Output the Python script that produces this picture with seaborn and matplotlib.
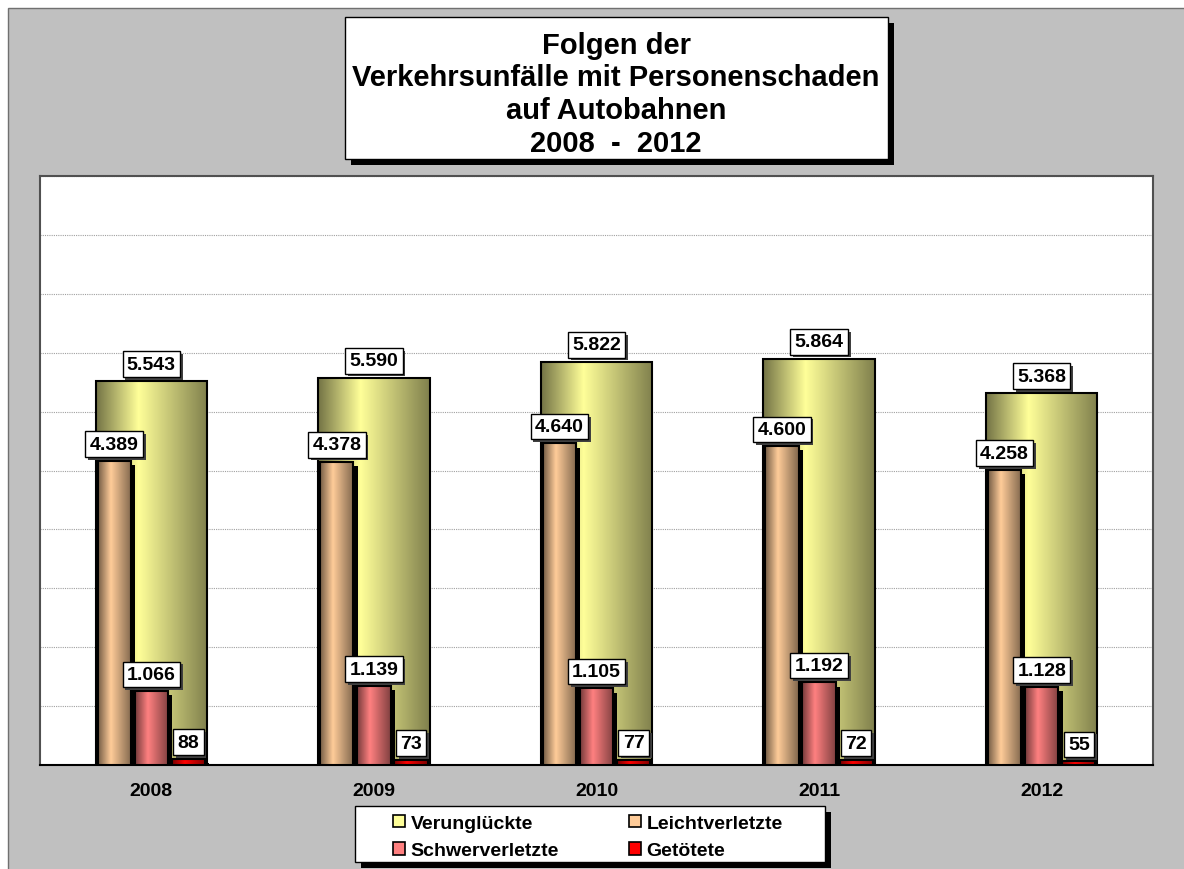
import numpy as np
import pandas as pd
import seaborn as sns
import matplotlib.pyplot as plt
import matplotlib.colors as mcolors
import matplotlib.patches as mpatches
import matplotlib.patheffects as pe

years = ["2008", "2009", "2010", "2011", "2012"]
verunglueckte = [5543, 5590, 5822, 5864, 5368]
leichtverletzte = [4389, 4378, 4640, 4600, 4258]
schwerverletzte = [1066, 1139, 1105, 1192, 1128]
getoetete = [88, 73, 77, 72, 55]
series_names = ["Verunglückte", "Leichtverletzte", "Schwerverletzte", "Getötete"]
colors = ["#ffff99", "#ffcc99", "#ff8080", "#ff0000"]

sns.set_style("white")
plt.rcParams["font.family"] = ["Liberation Sans", "DejaVu Sans"]
plt.rcParams["font.weight"] = "bold"
plt.rcParams["text.color"] = "black"
plt.rcParams["xtick.color"] = "black"

fig = plt.figure(figsize=(11.84, 8.70), dpi=100, facecolor="white")
# gray chart area with a thin border top/left
fig.add_artist(mpatches.Rectangle((8 / 1184, -0.01), 1.02, (870 - 9) / 870 + 0.01,
                                  transform=fig.transFigure, fc="#c0c0c0", ec="#707070",
                                  lw=1, zorder=-10))

ax = fig.add_axes([40 / 1184, 104 / 870, 1113 / 1184, 589 / 870])
ax.set_facecolor("white")

# big bars behind
sns.barplot(x=years, y=verunglueckte, color=colors[0], width=0.5,
            saturation=1, errorbar=None, ax=ax)

small = pd.DataFrame({
    "Jahr": years * 3,
    "Anzahl": leichtverletzte + schwerverletzte + getoetete,
    "Art": np.repeat(series_names[1:], len(years)),
})
sns.barplot(data=small, x="Jahr", y="Anzahl", hue="Art", hue_order=series_names[1:],
            palette=colors[1:], width=0.5, gap=0.1, saturation=1,
            errorbar=None, legend=False, ax=ax)


def gradient(color, n=256):
    base = np.array(mcolors.to_rgb(color))
    t = np.linspace(0, 1, n)
    f = np.interp(t, [0, 0.38, 1], [0.45, 1.0, 0.5])
    return np.clip(base[None, :] * f[:, None], 0, 1)[None, :, :]


values = [verunglueckte, leichtverletzte, schwerverletzte, getoetete]
for i, cont in enumerate(ax.containers):
    z = 2 + i
    grad = gradient(colors[i])
    for bar in cont:
        bar.set_zorder(z)
        bar.set_edgecolor("none")
        if i > 0:
            bar.set_path_effects([pe.SimplePatchShadow(offset=(3, -3), shadow_rgbFace="black", alpha=1),
                                  pe.Normal()])
        x0, y0 = bar.get_xy()
        w, h = bar.get_width(), bar.get_height()
        im = ax.imshow(grad, extent=[x0, x0 + w, y0, y0 + h], aspect="auto",
                       interpolation="bilinear", zorder=z + 0.01)
        im.set_clip_path(bar)
        ax.add_patch(mpatches.Rectangle((x0, y0), w, h, fill=False, ec="black",
                                        lw=1.5, zorder=z + 0.02))
    anns = ax.bar_label(cont, labels=[f"{v:,}".replace(",", ".") for v in values[i]],
                        padding=6, fontsize=14, fontweight="bold", zorder=10, color="black",
                        bbox=dict(boxstyle="square,pad=0.22", fc="white", ec="black", lw=1))
    for a in anns:
        a.get_bbox_patch().set_path_effects(
            [pe.SimplePatchShadow(offset=(2, -2), shadow_rgbFace="#404040", alpha=1), pe.Normal()])

ax.set_xlim(-0.5, 4.5)
ax.set_ylim(0, 8500)
ax.set_yticks(np.arange(0, 8501, 850))
ax.set_yticklabels([])
ax.tick_params(axis="y", length=0)
ax.set_axisbelow(True)
ax.yaxis.grid(True, color="#a0a0a0", linestyle=(0, (1, 1)), linewidth=0.8)
ax.set_xticks(np.arange(-0.5, 5, 1), minor=True)
ax.tick_params(axis="x", which="major", length=0, labelsize=14, pad=12, labelcolor="black")
ax.tick_params(axis="x", which="minor", length=6, width=1, direction="out", color="#404040")
for lbl in ax.get_xticklabels():
    lbl.set_fontweight("bold")
ax.set_xlabel("")
ax.set_ylabel("")
for side in ["left", "top", "right"]:
    ax.spines[side].set_color("#505050")
    ax.spines[side].set_linewidth(1.5)
ax.spines["bottom"].set_color("black")
ax.spines["bottom"].set_linewidth(1.5)

shadow = [pe.SimplePatchShadow(offset=(4, -4), shadow_rgbFace="black", alpha=1), pe.Normal()]

# title box
fig.add_artist(mpatches.Rectangle((345 / 1184, 710 / 870), 543 / 1184, 142 / 870,
                                  transform=fig.transFigure, fc="white", ec="black",
                                  lw=1, path_effects=shadow))
fig.text(616 / 1184, 0.891, "Folgen der\nVerkehrsunfälle mit Personenschaden\nauf Autobahnen\n2008  -  2012",
         ha="center", va="center", fontsize=21, fontweight="bold", linespacing=1.22,
         color="black")

# legend box
fig.add_artist(mpatches.Rectangle((355 / 1184, 7 / 870), 470 / 1184, 56 / 870,
                                  transform=fig.transFigure, fc="white", ec="black",
                                  lw=1, path_effects=shadow))
order = [0, 2, 1, 3]
handles = [mpatches.Patch(facecolor=colors[k], edgecolor="black", lw=1.2) for k in order]
leg = fig.legend(handles, [series_names[k] for k in order], ncol=2, frameon=False, fontsize=14,
                 loc="center", bbox_to_anchor=(588 / 1184, 32 / 870), handlelength=0.6,
                 handleheight=0.6, handletextpad=0.3, columnspacing=3.6, labelspacing=0.55)
for t in leg.get_texts():
    t.set_color("black")

fig.savefig("out.png", dpi=100, facecolor=fig.get_facecolor())
